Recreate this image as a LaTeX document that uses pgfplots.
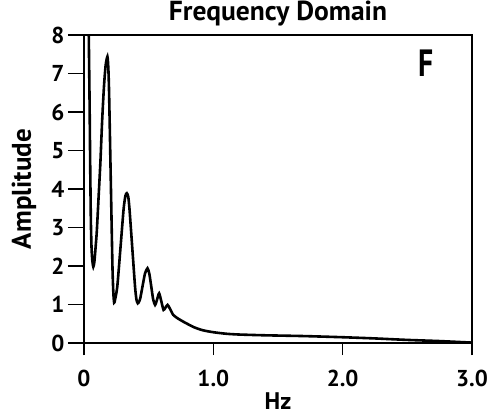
\documentclass[border=0pt]{standalone}
\usepackage{pgfplots}
\pgfplotsset{compat=1.18}
\usepackage{fontspec}
\setmainfont{PT Sans}
\newfontfamily\Ffont[FakeStretch=0.78]{PT Sans}
\begin{document}
\begin{tikzpicture}
\path[use as bounding box] (-84pt,-72pt) rectangle (406pt,343pt);
\begin{axis}[
  scale only axis,
  width=388pt, height=308pt,
  xmin=0, xmax=3, ymin=0, ymax=8,
  axis line style={line width=1.3pt},
  xtick={0,1,2,3},
  xticklabels={0,1.0,2.0,3.0},
  ytick={0,1,2,3,4,5,6,7,8},
  xtick pos=bottom, ytick pos=left,
  tick align=outside,
  major tick length=16pt,
  xtick style={/pgfplots/major tick length=12pt},
  every tick/.style={line width=1.3pt, black},
  /pgf/number format/assume math mode=true,
  ticklabel style={font=\bfseries\fontsize{23}{23}\selectfont},
  xticklabel style={yshift=-8pt},
  extra x ticks={0,3},
  extra x tick labels={},
  extra x tick style={/pgfplots/major tick length=20pt},
  title={Frequency Domain},
  title style={font=\bfseries\fontsize{27.5}{27.5}\selectfont, at={(axis description cs:0.5,1)}, anchor=base, yshift=9pt},
  ylabel={Amplitude},
  ylabel style={font=\bfseries\fontsize{27}{27}\selectfont, at={(axis description cs:-0.155,0.5)}, anchor=center},
  xlabel={Hz},
  xlabel style={font=\bfseries\fontsize{24}{24}\selectfont, at={(axis description cs:0.5,0)}, anchor=north, yshift=-46pt},
]
\addplot[black, line width=2.6pt, smooth, tension=0.4] coordinates {
(0.033,9.5) (0.037,8.0) (0.043,6.3) (0.048,4.6) (0.053,3.2) (0.058,2.5) (0.064,2.15) (0.072,1.98)
(0.080,2.1) (0.090,2.5) (0.099,2.9) (0.113,3.8) (0.127,4.71) (0.140,5.75) (0.154,6.64) (0.167,7.2) (0.181,7.44)
(0.188,7.15) (0.194,6.5) (0.207,4.25) (0.220,1.99) (0.227,1.3) (0.233,1.05)
(0.240,1.12) (0.2575,1.47) (0.282,2.47) (0.306,3.47) (0.320,3.82) (0.331,3.89)
(0.342,3.8) (0.352,3.47) (0.3735,2.46) (0.395,1.45) (0.406,1.12) (0.416,1.03)
(0.425,1.07) (0.435,1.16) (0.4535,1.49) (0.472,1.81) (0.491,1.94)
(0.505,1.80) (0.520,1.47) (0.535,1.13) (0.550,0.99)
(0.565,1.13) (0.581,1.29) (0.598,1.08) (0.615,0.86)
(0.630,0.92) (0.646,0.99) (0.660,0.92) (0.675,0.82) (0.69,0.73)
(0.72,0.65) (0.77,0.55) (0.85,0.41) (0.92,0.33) (1.0,0.28) (1.1,0.24) (1.2,0.22) (1.4,0.20)
(1.7,0.18) (2.0,0.15) (2.24,0.12) (2.5,0.08) (2.75,0.05) (3.0,0.01)
};
\node[font=\Ffont\bfseries\fontsize{38}{38}\selectfont] at (axis cs:2.643,7.26) {F};
\end{axis}
\end{tikzpicture}
\end{document}
